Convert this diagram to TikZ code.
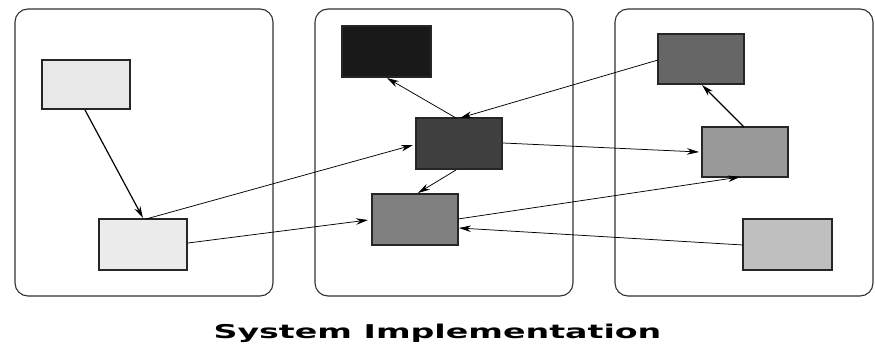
\documentclass[tikz,border=0pt]{standalone}
\usepackage{fontspec}
\setmainfont{DejaVu Sans}
\usetikzlibrary{arrows.meta}
\begin{document}
\begin{tikzpicture}[x=1pt,y=-1pt,
  panel/.style={draw=black!80, line width=1.1pt, rounded corners=13pt},
  comp/.style={draw=black!85, line width=1.1pt},
  link/.style={draw=black, line width=0.75pt, -{Stealth[length=12pt,width=6.5pt]}},
  boldlink/.style={link, line width=1.2pt}]
\useasboundingbox (0,0) rectangle (875,350);
\fill[white] (0,0) rectangle (875,350);
% three subsystem panels
\draw[panel] (15,9) rectangle (273,296);
\draw[panel] (315,9) rectangle (573,296);
\draw[panel] (615,9) rectangle (873,296);
% components
\path[comp, fill=black!9]  (42,60)   rectangle (130,109) node[midway] (a) {};
\path[comp, fill=black!8]  (99,219)  rectangle (187,270) node[midway] (b) {};
\path[comp, fill=black!90] (342,26)  rectangle (431,77)  node[midway] (c) {};
\path[comp, fill=black!75] (416,118) rectangle (502,169) node[midway] (d) {};
\path[comp, fill=black!50] (372,194) rectangle (458,245) node[midway] (e) {};
\path[comp, fill=black!60] (658,34)  rectangle (744,84)  node[midway] (f) {};
\path[comp, fill=black!40] (702,127) rectangle (788,177) node[midway] (g) {};
\path[comp, fill=black!25] (743,219) rectangle (832,270) node[midway] (h) {};
% anchor points on component borders
\coordinate (aS) at (85,110);
\coordinate (bN) at (143,218);
\coordinate (bNe) at (146,219);
\coordinate (bE) at (188,243);
\coordinate (cS) at (387,78);
\coordinate (dN) at (456,118);
\coordinate (dNe) at (460,118);
\coordinate (dW) at (413,145);
\coordinate (dS) at (456,170);
\coordinate (dE) at (503,143);
\coordinate (eN) at (418,193);
\coordinate (eW) at (368,220);
\coordinate (eE) at (458,219);
\coordinate (eEl) at (459,228);
\coordinate (fW) at (658,60);
\coordinate (fS) at (702,85);
\coordinate (gN) at (744,127);
\coordinate (gW) at (699,152);
\coordinate (gS) at (740,177);
\coordinate (hW) at (743,245);
% connections
\draw[boldlink] (aS) -- (bN);
\draw[link] (bNe) -- (dW);
\draw[link] (bE) -- (eW);
\draw[link] (dN) -- (cS);
\draw[link] (dS) -- (eN);
\draw[link] (fW) -- (dNe);
\draw[link] (dE) -- (gW);
\draw[link] (eE) -- (gS);
\draw[link] (hW) -- (eEl);
\draw[boldlink] (gN) -- (fS);
% caption
\node[font=\bfseries\fontsize{19}{22}\selectfont, xscale=1.75, inner sep=0pt] (title) at (437.5,333) {System Implementation};
\end{tikzpicture}
\end{document}
